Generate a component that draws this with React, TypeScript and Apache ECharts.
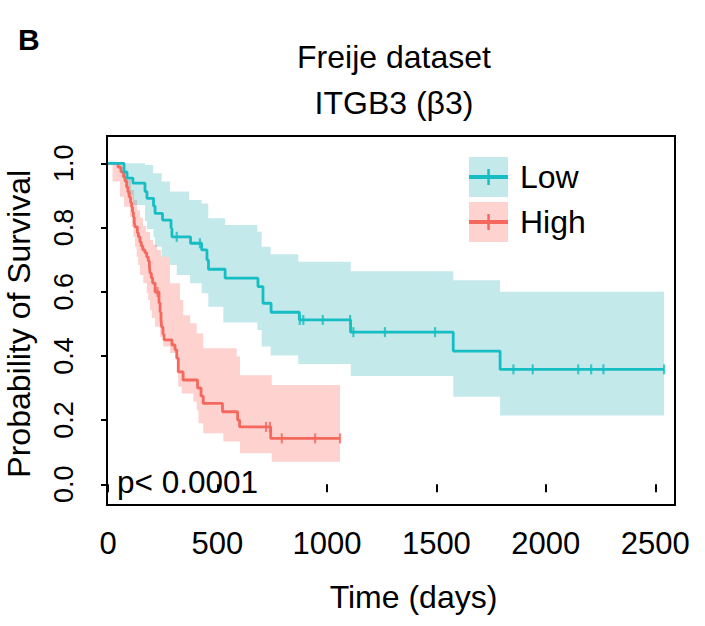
import React, { useEffect, useRef } from "react";
import * as echarts from "echarts";

// ---- axis ticks ----
const xTicks = [0, 500, 1000, 1500, 2000, 2500];
const yTicks = [0, 0.2, 0.4, 0.6, 0.8, 1.0];

// ---- Low group (teal) KM curve ----
const lowTimes = [0, 73, 87, 114, 169, 178, 208, 215, 249, 288, 292, 377, 428, 452, 459, 535, 685, 708, 745, 874, 1108, 1577, 1791, 2540];
const lowSurv = [1, 0.973, 0.954, 0.938, 0.912, 0.891, 0.867, 0.844, 0.823, 0.798, 0.771, 0.751, 0.73, 0.699, 0.67, 0.642, 0.616, 0.564, 0.536, 0.512, 0.474, 0.415, 0.358, 0.358];
const lowCensor = [314, 420, 876, 892, 981, 1106, 1121, 1265, 1494, 1852, 1940, 2148, 2207, 2263, 2540];
const lowUpperTimes = [0, 169, 206, 245, 283, 371, 428, 458, 535, 682, 702, 743, 869, 1109, 1577, 1791, 2540];
const lowUpperVals = [1.0, 0.995, 0.969, 0.943, 0.912, 0.886, 0.875, 0.829, 0.808, 0.787, 0.74, 0.717, 0.693, 0.664, 0.636, 0.6, 0.6];
const lowLowerTimes = [0, 73, 87, 114, 169, 178, 208, 215, 245, 283, 314, 375, 428, 458, 527, 682, 702, 743, 869, 1109, 1577, 1791, 2540];
const lowLowerVals = [1.0, 0.94, 0.9, 0.87, 0.82, 0.795, 0.77, 0.74, 0.709, 0.683, 0.652, 0.626, 0.595, 0.553, 0.504, 0.481, 0.429, 0.401, 0.375, 0.337, 0.273, 0.214, 0.214];

// ---- High group (red) KM curve ----
const highTimes = [0, 46, 59, 71, 78, 85, 91, 97, 103, 108, 112, 116, 120, 123, 134, 139, 146, 152, 159, 169, 177, 184, 189, 192, 198, 204, 215, 233, 238, 242, 245, 251, 256, 292, 306, 314, 321, 343, 409, 425, 435, 523, 592, 601, 743, 1060];
const highSurv = [1, 0.988, 0.973, 0.957, 0.945, 0.926, 0.911, 0.895, 0.879, 0.864, 0.848, 0.833, 0.817, 0.802, 0.783, 0.771, 0.755, 0.742, 0.73, 0.721, 0.708, 0.696, 0.683, 0.658, 0.643, 0.627, 0.599, 0.565, 0.537, 0.515, 0.49, 0.468, 0.45, 0.434, 0.419, 0.393, 0.35, 0.325, 0.3, 0.275, 0.252, 0.226, 0.2, 0.179, 0.143, 0.143];
const highCensor = [226, 722, 740, 794, 946, 1060];
const highUpperTimes = [0, 64, 78, 91, 105, 119, 133, 146, 160, 174, 192, 206, 224, 242, 283, 329, 344, 375, 405, 435, 588, 603, 748, 1060];
const highUpperVals = [1.0, 0.995, 0.973, 0.948, 0.917, 0.886, 0.854, 0.83, 0.805, 0.786, 0.761, 0.746, 0.73, 0.709, 0.626, 0.574, 0.527, 0.502, 0.47, 0.424, 0.398, 0.34, 0.309, 0.309];
const highLowerTimes = [0, 21, 55, 73, 100, 108, 116, 123, 131, 138, 146, 161, 177, 184, 192, 200, 215, 238, 253, 283, 314, 321, 337, 390, 405, 413, 435, 527, 603, 748, 1060];
const highLowerVals = [1.0, 0.943, 0.896, 0.865, 0.834, 0.802, 0.771, 0.74, 0.709, 0.683, 0.652, 0.626, 0.595, 0.574, 0.543, 0.518, 0.491, 0.46, 0.429, 0.409, 0.387, 0.304, 0.283, 0.257, 0.231, 0.19, 0.159, 0.133, 0.097, 0.07, 0.07];

const FONT = "'Liberation Sans', Arial, Helvetica, sans-serif";
const TEAL = "#16BDC3";
const RED = "#F4685E";
const TEAL_BAND = "rgba(0,160,170,0.23)";
const RED_BAND = "rgba(248,118,109,0.33)";

function stepPoints(times: number[], vals: number[]): number[][] {
  const pts: number[][] = [];
  for (let i = 0; i < times.length; i++) {
    pts.push([times[i], vals[i]]);
    if (i + 1 < times.length) pts.push([times[i + 1], vals[i]]);
  }
  return pts;
}

function bandPolygon(ut: number[], uv: number[], lt: number[], lv: number[]): number[][] {
  const upper = stepPoints(ut, uv);
  const lower = stepPoints(lt, lv).reverse();
  return upper.concat(lower);
}

function survAt(times: number[], vals: number[], t: number): number {
  let v = vals[0];
  for (let i = 0; i < times.length; i++) {
    if (times[i] <= t) v = vals[i];
  }
  return v;
}

function bandSeries(name: string, ut: number[], uv: number[], lt: number[], lv: number[], fill: string) {
  const poly = bandPolygon(ut, uv, lt, lv);
  return {
    type: "custom",
    name,
    silent: true,
    z: 1,
    data: ut.map((t, i) => [t, uv[i]]),
    renderItem: (params: any, api: any) => {
      if (params.dataIndex !== 0) return null;
      const pts = poly.map((p) => api.coord(p));
      return { type: "polygon", shape: { points: pts }, style: { fill, stroke: "none" } };
    },
  };
}

export default function App() {
  const ref = useRef<HTMLDivElement>(null);
  useEffect(() => {
    document.body.style.margin = "0";
    const chart = echarts.init(ref.current!, null, { renderer: "svg" });
    const option: any = {
      animation: false,
      backgroundColor: "#fff",
      grid: { left: 108, top: 163.3, width: 567, height: 321, containLabel: false, outerBoundsMode: "none" },
      xAxis: {
        type: "value",
        min: 0,
        max: 2590,
        offset: 21,
        splitLine: { show: false },
        axisLine: { show: false },
        axisTick: { show: true, customValues: xTicks, length: 8, lineStyle: { color: "#000", width: 2 } },
        axisLabel: {
          customValues: xTicks,
          fontSize: 31,
          color: "#000",
          fontFamily: FONT,
          margin: 23,
          formatter: (v: number) => String(v),
        },
        name: "Time (days)",
        nameLocation: "middle",
        nameGap: 76,
        nameTextStyle: { fontSize: 32, color: "#000", fontFamily: FONT, padding: [0, 0, 0, 44] },
      },
      yAxis: {
        type: "value",
        min: 0,
        max: 1,
        interval: 0.2,
        splitLine: { show: false },
        axisLine: { show: false },
        axisTick: { show: true, length: 7, lineStyle: { color: "#000", width: 2 } },
        axisLabel: {
          rotate: 90,
          fontSize: 27,
          color: "#000",
          fontFamily: FONT,
          margin: 31,
          formatter: (v: number) => v.toFixed(1),
        },
        name: "Probability of Survival",
        nameLocation: "middle",
        nameGap: 73,
        nameTextStyle: { fontSize: 32, color: "#000", fontFamily: FONT },
      },
      legend: {
        orient: "vertical",
        left: 464,
        top: 152,
        itemWidth: 39,
        itemHeight: 40,
        itemGap: 5,
        selectedMode: false,
        textStyle: { fontSize: 32, color: "#000", fontFamily: FONT, padding: [0, 0, 11, 7] },
        data: [
          { name: "Low", icon: "rect", itemStyle: { color: TEAL_BAND } },
          { name: "High", icon: "rect", itemStyle: { color: RED_BAND } },
        ],
      },
      graphic: [
        { type: "text", x: 18, y: 39, style: { text: "B", font: `bold 30px ${FONT}`, fill: "#000", verticalAlign: "middle" } },
        { type: "text", x: 394, y: 57, style: { text: "Freije dataset", font: `32px ${FONT}`, fill: "#000", align: "center", verticalAlign: "middle" } },
        { type: "text", x: 394, y: 103, style: { text: "ITGB3 (β3)", font: `32px ${FONT}`, fill: "#000", align: "center", verticalAlign: "middle" } },
        { type: "text", x: 117, y: 482, style: { text: "p< 0.0001", font: `31.5px ${FONT}`, fill: "#000", verticalAlign: "middle" } },
        { type: "rect", shape: { x: 107, y: 136, width: 568, height: 369 }, style: { fill: "none", stroke: "#000", lineWidth: 2 }, z: 10 },
        { type: "line", shape: { x1: 469, y1: 177, x2: 508, y2: 177 }, style: { stroke: TEAL, lineWidth: 4 }, z: 10 },
        { type: "rect", shape: { x: 487.3, y: 169, width: 2.5, height: 16 }, style: { fill: TEAL }, z: 10 },
        { type: "line", shape: { x1: 469, y1: 222, x2: 508, y2: 222 }, style: { stroke: RED, lineWidth: 4 }, z: 10 },
        { type: "rect", shape: { x: 487.3, y: 214, width: 2.5, height: 16 }, style: { fill: RED }, z: 10 },
      ],
      series: [
        bandSeries("High", highUpperTimes, highUpperVals, highLowerTimes, highLowerVals, RED_BAND),
        bandSeries("Low", lowUpperTimes, lowUpperVals, lowLowerTimes, lowLowerVals, TEAL_BAND),
        {
          type: "line",
          name: "High curve",
          step: "end",
          showSymbol: false,
          silent: true,
          z: 3,
          lineStyle: { color: RED, width: 2.8 },
          data: highTimes.map((t, i) => [t, highSurv[i]]),
        },
        {
          type: "line",
          name: "Low curve",
          step: "end",
          showSymbol: false,
          silent: true,
          z: 3,
          lineStyle: { color: TEAL, width: 2.8 },
          data: lowTimes.map((t, i) => [t, lowSurv[i]]),
        },
        {
          type: "scatter",
          name: "High censored",
          symbol: "rect",
          symbolSize: [2.2, 10],
          silent: true,
          z: 4,
          itemStyle: { color: RED },
          data: highCensor.map((t) => [t, survAt(highTimes, highSurv, t)]),
        },
        {
          type: "scatter",
          name: "Low censored",
          symbol: "rect",
          symbolSize: [2.2, 10],
          silent: true,
          z: 4,
          itemStyle: { color: TEAL },
          data: lowCensor.map((t) => [t, survAt(lowTimes, lowSurv, t)]),
        },
      ],
    };
    chart.setOption(option);
    return () => chart.dispose();
  }, []);
  return <div ref={ref} style={{ position: "absolute", left: 0, top: 0, width: 705, height: 626 }} />;
}
